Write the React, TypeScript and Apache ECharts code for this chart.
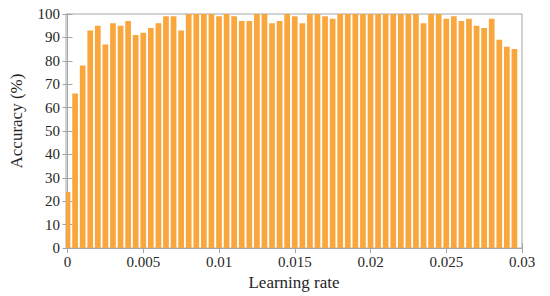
import React, { useEffect, useRef } from "react";
import * as echarts from "echarts";

// Accuracy (%) for each learning rate (step 0.0005 from 0)
const accuracy: number[] = [
  24, 66, 78, 93, 95, 87, 96, 95, 97, 91,
  92, 94, 96, 99, 99, 93, 100, 100, 100, 100,
  99, 100, 99, 97, 97, 100, 100, 96, 97, 100,
  99, 96, 100, 100, 99, 98, 100, 100, 100, 100,
  100, 100, 100, 100, 100, 100, 100, 96, 100, 100,
  98, 99, 97, 98, 95, 94, 98, 89, 86, 85,
];
const learningRates: number[] = accuracy.map((_, i) => Number((i * 0.0005).toFixed(4)));

const xTicks: number[] = [0, 0.005, 0.01, 0.015, 0.02, 0.025, 0.03];
const xMin = -0.0001;
const xMax = 0.03;
const yMin = 0;
const yMax = 100;
const yStep = 10;

const xTitle = "Learning rate";
const yTitle = "Accuracy (%)";

export default function App() {
  const ref = useRef<HTMLDivElement>(null);
  useEffect(() => {
    if (!ref.current) return;
    const chart = echarts.init(ref.current, undefined, { renderer: "svg" });
    const font = "'Liberation Serif', 'Times New Roman', serif";
    const frame = "#a6a6a6";
    const textColor = "#262626";
    const barColor = "#F9A63C";
    const barWidth = 5.7;
    const fmt = (v: number) => String(Number(v.toFixed(4)));
    chart.setOption({
      animation: false,
      backgroundColor: "#ffffff",
      grid: {
        left: 60,
        right: 28,
        top: 14,
        bottom: 46,
        show: true,
        borderColor: frame,
        borderWidth: 1,
        backgroundColor: "transparent",
      },
      xAxis: [
        {
          type: "value",
          min: xMin,
          max: xMax,
          name: xTitle,
          nameLocation: "middle",
          nameGap: 24,
          nameTextStyle: { fontFamily: font, fontSize: 17, color: textColor },
          axisLine: { show: true, lineStyle: { color: frame } },
          axisTick: {
            show: true,
            inside: true,
            length: 5,
            customValues: xTicks,
            lineStyle: { color: frame },
          },
          axisLabel: {
            fontFamily: font,
            fontSize: 15,
            color: textColor,
            margin: 6,
            customValues: xTicks,
            formatter: fmt,
          },
          splitLine: { show: false },
        },
        {
          type: "value",
          position: "top",
          min: xMin,
          max: xMax,
          axisLine: { show: true, lineStyle: { color: frame } },
          axisTick: {
            show: true,
            inside: true,
            length: 5,
            customValues: xTicks,
            lineStyle: { color: frame },
          },
          axisLabel: { show: false, customValues: xTicks },
          splitLine: { show: false },
        },
      ],
      yAxis: [
        {
          type: "value",
          min: yMin,
          max: yMax,
          interval: yStep,
          name: yTitle,
          nameLocation: "middle",
          nameGap: 41,
          nameRotate: 90,
          nameTextStyle: {
            fontFamily: font,
            fontSize: 17,
            color: textColor,
            padding: [0, 0, 0, 20],
          },
          axisLine: { show: true, lineStyle: { color: frame } },
          axisTick: { show: true, inside: true, length: 5, lineStyle: { color: frame } },
          axisLabel: { fontFamily: font, fontSize: 15, color: textColor, margin: 6 },
          splitLine: { show: false },
        },
        {
          type: "value",
          position: "right",
          min: yMin,
          max: yMax,
          interval: yStep,
          axisLine: { show: true, lineStyle: { color: frame } },
          axisTick: { show: true, inside: true, length: 5, lineStyle: { color: frame } },
          axisLabel: { show: false },
          splitLine: { show: false },
        },
      ],
      series: [
        {
          type: "custom",
          xAxisIndex: 0,
          yAxisIndex: 0,
          encode: { x: 0, y: 1 },
          data: learningRates.map((x, i) => [x, accuracy[i]]),
          renderItem: (params: any, api: any) => {
            const x = api.value(0);
            const y = api.value(1);
            const top = api.coord([x, y]);
            const base = api.coord([x, 0]);
            const rect = echarts.graphic.clipRectByRect(
              {
                x: top[0] - barWidth / 2,
                y: top[1],
                width: barWidth,
                height: base[1] - top[1],
              },
              {
                x: params.coordSys.x,
                y: params.coordSys.y,
                width: params.coordSys.width,
                height: params.coordSys.height,
              }
            );
            if (!rect) return null;
            return {
              type: "rect",
              shape: rect,
              style: { fill: barColor },
            };
          },
        },
      ],
    });
    return () => chart.dispose();
  }, []);
  return (
    <div
      ref={ref}
      style={{ position: "absolute", left: 0, top: 0, width: 550, height: 296 }}
    />
  );
}
